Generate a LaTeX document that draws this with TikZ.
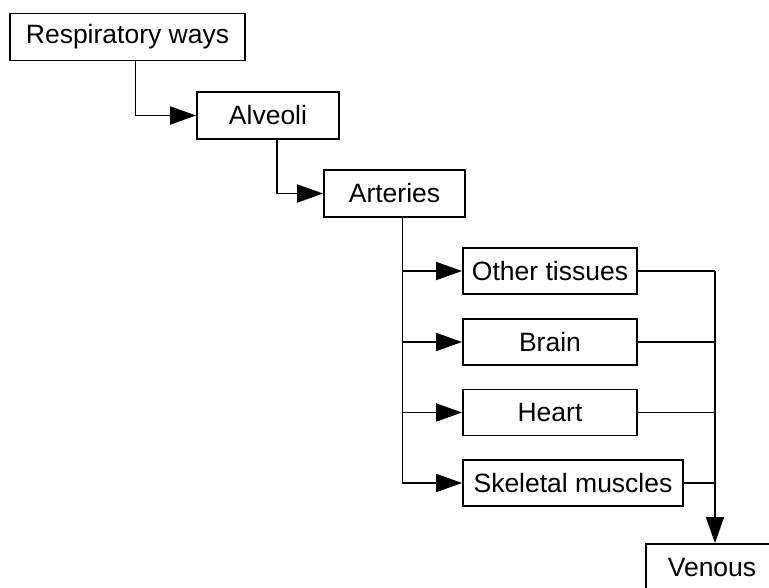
\documentclass[tikz,border=0pt]{standalone}
\usepackage{fontspec}
\setmainfont{Liberation Sans}
\usetikzlibrary{arrows.meta}
\begin{document}
\begin{tikzpicture}[x=1pt,y=-1pt,
  box/.style={draw, line width=1.9pt, minimum height=47pt, inner sep=0pt, font=\fontsize{26.5}{31}\selectfont},
  link/.style={line width=1.9pt},
  arr/.style={link, -{Triangle[length=26pt,width=18pt]}}]
\fill[white] (0,0) rectangle (769,588);
\clip (0,0) rectangle (769,588);
\node[box, minimum width=235pt] (resp) at (127.5,37) {Respiratory ways};
\node[box, minimum width=142pt] (alv) at (268,115.5) {Alveoli};
\node[box, minimum width=141pt] (art) at (394.5,193.5) {Arteries};
\node[box, minimum width=174pt, minimum height=46pt] (oth) at (550,271) {Other tissues};
\node[box, minimum width=174pt, minimum height=46pt] (brain) at (550,342) {Brain};
\node[box, minimum width=174pt, minimum height=46pt] (heart) at (550,412.5) {Heart};
\node[box, minimum width=220pt, minimum height=46pt] (skel) at (573,483) {Skeletal muscles};
\node[box, minimum width=132pt] (ven) at (712,567.5) {Venous};
\coordinate (vb) at (715,271);
\draw[arr] ([xshift=8pt]resp.south) |- (alv.west);
\draw[arr] ([xshift=9pt]alv.south) |- (art.west);
\draw[arr] ([xshift=8pt]art.south) |- (oth.west);
\draw[arr] ([xshift=8pt]art.south) |- (brain.west);
\draw[arr] ([xshift=8pt]art.south) |- (heart.west);
\draw[arr] ([xshift=8pt]art.south) |- (skel.west);
\draw[link] (oth.east) -- (vb);
\draw[link] (brain.east) -- (brain.east -| vb);
\draw[link] (heart.east) -- (heart.east -| vb);
\draw[link] (skel.east) -- (skel.east -| vb);
\draw[arr] (vb) -- (vb |- ven.north);
\end{tikzpicture}
\end{document}
